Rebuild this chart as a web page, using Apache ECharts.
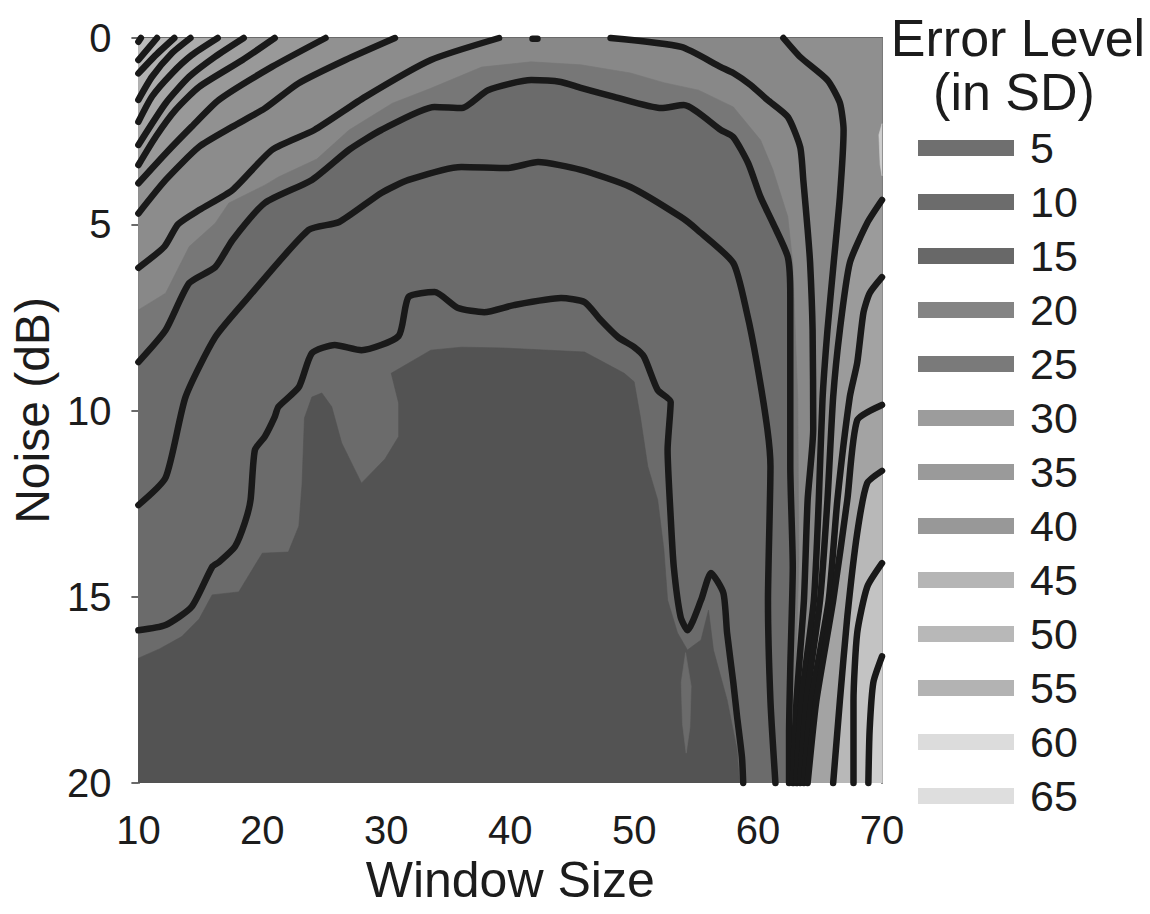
<!DOCTYPE html>
<html>
<head>
<meta charset="utf-8">
<script src="https://cdn.jsdelivr.net/npm/echarts@6/dist/echarts.min.js"></script>
<style>
  html, body { margin: 0; padding: 0; background: #ffffff; }
  #chart { width: 1150px; height: 914px; }
</style>
</head>
<body>
<div id="chart"></div>
<script>
// ---- Contour lines: vertices as [window size, noise (dB)] ----
const L1 = [[10.2,0],[10,0.1]];
const L2 = [[11.5,0],[10,0.59]];
const L3 = [[12.9,0],[11.4,0.46],[10,0.95]];
const L4 = [[14.2,0],[12.7,0.41],[11.1,1.04],[10,1.66]];
const L5 = [[16.4,0],[14.3,0.46],[12.7,0.95],[11.1,1.57],[10,2.25]];
const L6 = [[18.5,0],[16.2,0.5],[14.1,1.04],[12.2,1.75],[10,2.87]];
const L7 = [[21,0],[18.4,0.59],[14.9,1.31],[13,1.93],[11.4,2.65],[10,3.41]];
const L8 = [[25.1,0],[20.8,0.77],[16.5,1.66],[14.3,2.38],[12.2,3.1],[10,3.9]];
const L9 = [[30.7,0],[26.7,0.59],[22.9,1.22],[20.2,1.89],[17.6,2.38],[14.9,2.92],[12.2,3.81],[10,4.71]];
const L10 = [[39.1,0],[33.6,0.59],[28.3,1.58],[24.2,2.47],[20.8,3.0],[17.6,4.08],[14.9,4.62],[13.2,5.0],[12.1,5.6],[10,6.17]];
const L11 = [[10,8.7],[12.2,7.84],[14.1,6.58],[16.2,6.15],[17.6,5.42],[20.2,4.43],[24,3.81],[27,3.0],[29.6,2.47],
  [33.9,1.85],[36.1,1.88],[38.2,1.4],[41.7,1.13],[44.1,1.18],[45.7,1.34],[48.4,1.58],[52.2,1.88],[54,1.8],
  [57,2.47],[58,2.66],[59.2,3.36],[60.2,4.27],[61.2,4.97],[62.4,5.88],[62.6,6.95],[62.6,8.72],[62.6,11.5],
  [62.8,14.2],[62.6,16.9],[62.5,18.7],[62.5,20]];
const L12 = [[10,12.54],[12.2,11.8],[13.8,9.64],[16.2,8.03],[18.9,6.95],[23.75,5.15],[26.2,4.94],[29.6,4.16],
  [31.8,3.81],[36.06,3.46],[39.8,3.49],[42.25,3.33],[45.7,3.54],[49.7,4.0],[53.75,4.8],[55.1,5.15],[58,6.04],
  [59.1,7.38],[59.9,8.72],[60.75,10.5],[61,11.5],[60.8,15.1],[61,17.8],[61.4,20]];
const L13 = [[10,15.9],[12.2,15.76],[14.3,15.27],[15.95,14.2],[16.5,14.07],[17.8,13.65],[18.6,13.0],[19.05,12.4],
  [19.4,11.06],[20.2,10.7],[21,10.17],[21.3,9.9],[22.95,9.37],[24,8.46],[25.85,8.24],[28,8.38],[31,8.0],
  [31.8,6.95],[33.9,6.82],[35.8,7.25],[37.9,7.36],[40.3,7.17],[44.1,6.98],[46,7.09],[47.3,7.57],[48.7,8.03],
  [50,8.3],[50.8,8.56],[51.9,9.45],[52.95,9.77],[52.7,11.06],[52.95,12.86],[53.2,14.2],[53.75,15.54],[54.3,15.9],
  [55.4,15.09],[56.2,14.36],[57.2,14.9],[57.5,15.97],[58,17.3],[58.3,18.2],[58.7,19.3],[58.8,20]];
const TOP48 = [[48.1,0],[53.8,0.24],[57,0.78],[58,0.94],[59.4,1.26],[60.75,1.66],[62.4,2.12],[63.4,2.93],
  [63.65,3.81],[64,5.15],[64.2,6.04],[64.4,7.84],[64.45,10.5],[64,12.4],[63.7,15.1],[63.1,17.8],[62.8,20]];
const TOP62 = [[62.04,0],[63.4,0.51],[65.6,1.13],[66.6,1.74],[66.9,2.47],[66.6,4.27],[66.1,6.04],[65.6,7.84],
  [65.2,9.7],[64.9,12.4],[64.5,15.1],[63.5,17.8],[63.1,20]];
const R1 = [[70,4.35],[68.8,4.97],[67.4,6.04],[66.6,7.84],[66.06,9.64],[65.6,12.4],[65,15.1],[63.9,17.8],[63.4,20]];
const R2 = [[70,6.42],[69,6.85],[68.5,7.38],[68,8.72],[67.4,9.64],[66.4,12.4],[65.7,15.1],[64.3,17.8],[63.7,20]];
const R3 = [[70,9.85],[68,10.26],[67.2,12.4],[66.06,15.1],[64.7,17.8],[64.0,20]];
const R4 = [[70,11.62],[68.8,11.95],[68,13.29],[67.2,15.54],[66.6,17.8],[66.06,20]];
const R5 = [[70,14.1],[68.8,14.74],[68,15.97],[67.7,17.8],[67.7,20]];
const R6 = [[70,16.6],[69.3,17.3],[69,18.6],[68.9,20]];
const DOT42 = [[41.8,0.02],[42.2,0.02]];

// ---- Boundaries of the shaded bands (not drawn as lines) ----
const BAND_EDGE = [[10,7.3],[12.2,6.85],[14.1,5.6],[16.2,4.97],[17.3,4.43],[20.2,3.95],[21.3,3.73],[24.4,3.25],
  [27,2.47],[28.8,2.1],[30.5,1.75],[33.6,1.35],[37.7,0.78],[41.7,0.64],[45.7,0.72],[49.7,0.94],[52.4,1.2],
  [55.2,1.4],[58,1.85],[60.2,2.74],[61.2,3.54],[62.4,4.8],[62.8,6.04],[63.2,9.64],[63.3,14],[63.0,17.5],[62.7,20]];
const LOW_CORE = [[10,16.65],[11.7,16.4],[13.5,16.07],[14.9,15.6],[15.95,14.95],[18.1,14.87],[20,13.83],[22.1,13.8],
  [22.95,13.1],[23.2,12.0],[23.4,10.2],[24,9.64],[24.8,9.53],[25.6,9.9],[26.4,10.87],[28,11.95],[29.9,11.3],
  [31,10.7],[31,9.8],[30.4,9.0],[33.6,8.38],[36.06,8.3],[39.3,8.32],[46,8.43],[49.2,9.0],[50,9.23],[50.5,10.17],
  [51.1,11.5],[51.9,12.4],[52.4,13.74],[52.7,15.09],[53.5,15.97],[54.3,16.43],[55.4,16.16],[56,15.36],
  [56.4,16.43],[57.5,17.77],[58.3,19.1],[58.5,20]];
const LENS = [[54.15,16.5],[54.6,17.4],[54.5,18.5],[54.2,19.2],[53.9,18.4],[53.8,17.3]];
const SLIVER = [[69.75,2.6],[70,2.3],[70,3.7],[69.85,3.4]];
const DOMAIN = [[10,0],[70,0],[70,20],[10,20]];

// ---- Legend ----
const LEGEND_LEVELS = [5,10,15,20,25,30,35,40,45,50,55,60,65];
const LEGEND_TITLE = ['Error Level', '(in SD)'];

// ---- Styles ----
const LEGEND_COLORS = ['#6f6f6f','#6c6c6c','#686868','#848484','#7a7a7a','#9c9c9c','#9a9a9a','#989898',
  '#b5b5b5','#b8b8b8','#b3b3b3','#dcdcdc','#dedede'];
const FONT = "'Liberation Sans', Arial, Helvetica, sans-serif";
const TEXT = '#1c1c1c';
const LINE_COLOR = '#191919';

// Polygon builders
const toCorner = line => line.concat([[10,0]]);            // wedge toward the upper-left corner
const toBottomLeft = line => line.concat([[10,20]]);       // region under a curve
const toRightEdge = line => line.concat([[70,20]]);        // region right of a curve that starts on the right edge
const toRightTop = line => line.concat([[70,20],[70,0]]);  // region right of a curve that starts on the top edge

const fills = [
  { pts: DOMAIN, color: '#888888' },
  { pts: toCorner(L10), color: '#8c8c8c' },
  { pts: toCorner(L9), color: '#919191' },
  { pts: toCorner(L8), color: '#999999' },
  { pts: toCorner(L7), color: '#a0a0a0' },
  { pts: toCorner(L6), color: '#a6a6a6' },
  { pts: toCorner(L5), color: '#acacac' },
  { pts: toCorner(L4), color: '#b2b2b2' },
  { pts: toCorner(L3), color: '#b8b8b8' },
  { pts: toCorner(L2), color: '#bdbdbd' },
  { pts: toRightTop(TOP62), color: '#8f8f8f' },
  { pts: toRightEdge(R1), color: '#9b9b9b' },
  { pts: toRightEdge(R2), color: '#a3a3a3' },
  { pts: toRightEdge(R3), color: '#a3a3a3' },
  { pts: toRightEdge(R4), color: '#b8b8b8' },
  { pts: toRightEdge(R5), color: '#c3c3c3' },
  { pts: toRightEdge(R6), color: '#cfcfcf' },
  { pts: SLIVER, color: '#cfcfcf' },
  { pts: toBottomLeft(BAND_EDGE), color: '#777777' },
  { pts: toBottomLeft(L11), color: '#6b6b6b' },
  { pts: toBottomLeft(LOW_CORE), color: '#535353' },
  { pts: LENS, color: '#6b6b6b' }
];

const contours = [L1,L2,L3,L4,L5,L6,L7,L8,L9,L10,L11,L12,L13,TOP48,TOP62,R1,R2,R3,R4,R5,R6,DOT42];

const chart = echarts.init(document.getElementById('chart'), null, { renderer: 'svg' });

// Shaded bands, painted back to front
const series = [{
  type: 'custom',
  coordinateSystem: 'cartesian2d',
  clip: true,
  silent: true,
  z: 1,
  data: fills.map((f, i) => [f.pts[0][0], f.pts[0][1], i]),
  encode: { x: 0, y: 1 },
  renderItem: function (params, api) {
    const f = fills[params.dataIndex];
    const pts = f.pts.map(p => api.coord(p));
    return {
      type: 'polygon',
      shape: { points: pts },
      style: { fill: f.color, stroke: f.color, lineWidth: 0.6 }
    };
  }
}];

// Contour lines on top
contours.forEach(c => {
  series.push({
    type: 'line',
    data: c,
    showSymbol: false,
    symbol: 'none',
    smooth: 0.2,
    clip: false,
    silent: true,
    z: 3,
    lineStyle: { color: LINE_COLOR, width: 6.5, cap: 'round', join: 'round' }
  });
});

// Legend: title, swatches and level labels
const ROW0 = 148, ROWSTEP = 54;
const graphic = [
  { type: 'text', x: 1018, y: 38, style: { text: LEGEND_TITLE[0], fill: TEXT, font: '52px ' + FONT, textAlign: 'center', textVerticalAlign: 'middle' } },
  { type: 'text', x: 1014, y: 92, style: { text: LEGEND_TITLE[1], fill: TEXT, font: '52px ' + FONT, textAlign: 'center', textVerticalAlign: 'middle' } }
];
LEGEND_LEVELS.forEach((lv, i) => {
  const cy = ROW0 + i * ROWSTEP;
  graphic.push({
    type: 'rect', shape: { x: 918, y: cy - 8, width: 96, height: 16 },
    style: { fill: LEGEND_COLORS[i] }
  });
  graphic.push({
    type: 'text', x: 1030, y: cy,
    style: { text: String(lv), fill: TEXT, font: '43px ' + FONT, textAlign: 'left', textVerticalAlign: 'middle' }
  });
});

const axisLine = { show: true, lineStyle: { color: '#6a6a6a', width: 2 } };
const axisTick = { show: true, length: 7, lineStyle: { color: '#6a6a6a', width: 2 } };

chart.setOption({
  animation: false,
  backgroundColor: '#ffffff',
  grid: { left: 136, right: 268, top: 38, bottom: 131, containLabel: false },
  xAxis: [{
    type: 'value', min: 10, max: 70, interval: 10, position: 'bottom',
    axisLine: axisLine, axisTick: axisTick,
    axisLabel: { fontSize: 40, color: TEXT, margin: 27, fontFamily: FONT },
    splitLine: { show: false },
    name: 'Window Size', nameLocation: 'middle', nameGap: 70,
    nameTextStyle: { fontSize: 50, color: TEXT, fontFamily: FONT }
  }, {
    type: 'value', min: 10, max: 70, position: 'top',
    axisLine: axisLine, axisTick: { show: false }, axisLabel: { show: false }, splitLine: { show: false }
  }],
  yAxis: [{
    type: 'value', min: 0, max: 20, interval: 5, inverse: true, position: 'left',
    axisLine: axisLine, axisTick: axisTick,
    axisLabel: { fontSize: 40, color: TEXT, margin: 27, fontFamily: FONT },
    splitLine: { show: false },
    name: 'Noise (dB)', nameLocation: 'middle', nameGap: 76, nameRotate: 90,
    nameTextStyle: { fontSize: 48, color: TEXT, fontFamily: FONT }
  }, {
    type: 'value', min: 0, max: 20, inverse: true, position: 'right',
    axisLine: axisLine, axisTick: { show: false }, axisLabel: { show: false }, splitLine: { show: false }
  }],
  graphic: graphic,
  series: series
});
</script>
</body>
</html>
